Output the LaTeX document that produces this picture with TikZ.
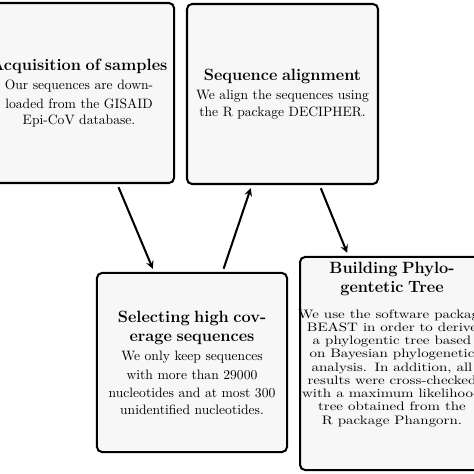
\documentclass[tikz,border=0pt]{standalone}
\usepackage{amssymb,amsfonts}
\usepackage{amsmath}
\usepackage{graphicx}
\usepackage{tikz}

\begin{document}
\begin{tikzpicture}
	 [x=0.735pt,y=0.735pt,>=stealth,
	 every node/.style={rectangle,rounded corners=3.7pt,draw=black,line width=1.5pt,fill=black!3,align=center,text width=138pt,inner sep=0pt}]
	\useasboundingbox (0,0) rectangle (474,474);

	\node[minimum width=139.7pt,minimum height=132.3pt] (n1) at (79,381)
	  {{\large\bfseries Acquisition of samples\par}\vspace{1pt}
	   \baselineskip=13.5pt Our sequences are down-\\ loaded from the GISAID\\ Epi-CoV database.};
	  \node[minimum width=140.4pt,minimum height=132.3pt] (n2) at (282.5,380)
	  {{\large\bfseries Sequence alignment\par}\vspace{1pt}
	   \baselineskip=13.5pt We align the sequences using\\ the R package DECIPHER.};
	  \node[minimum width=139.7pt,minimum height=131.6pt] (n3) at (192,111.5)
	  {{\large\bfseries Selecting high cov-\\ erage sequences\par}\vspace{1pt}
	   \baselineskip=13.5pt We only keep sequences\\ with more than 29000\\ nucleotides and at most 300\\ unidentified nucleotides.};
	  \node[minimum width=135.2pt,minimum height=156.6pt,text width=130pt] (n4) at (392,110.5) {};

   	  \node[draw=none,fill=none,anchor=north,inner sep=1pt,text width=150pt,yshift=-3pt] (L4) at (n4.north)
	  {{\large\bfseries Building Phylo-\\ gentetic Tree\par}\vspace{9pt}
	   \scalebox{1.1}[0.9]{\parbox{130pt}{\centering\baselineskip=10.8pt
	   We use the software package\\ BEAST in order to derive\\ a phylogentic tree based\\ on Bayesian phylogenetic\\ analysis.  In addition, all\\ results were cross-checked\\ with a maximum likelihood\\ tree obtained from the\\ R package Phangorn.\par}}};

	\foreach \from/\to in {n1/n3,n3/n2,n2/n4}
    \draw[->,line width=1.5pt,shorten >=2.5pt,shorten <=2.5pt] (\from) -- (\to);

\end{tikzpicture}
\end{document}
